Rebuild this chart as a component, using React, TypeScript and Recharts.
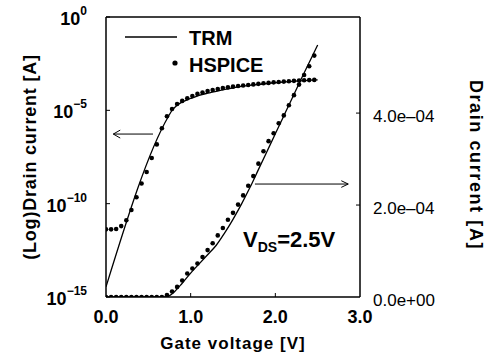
import { ComposedChart, Line, XAxis, YAxis, ReferenceLine, Legend } from 'recharts'

// gate voltage grid of the HSPICE points [V]
const dotVg = [
  0, 0.06, 0.12, 0.18, 0.24, 0.3, 0.36, 0.42, 0.48, 0.54, 0.6, 0.66, 0.72, 0.78,
  0.84, 0.9, 0.96, 1.02, 1.08, 1.14, 1.2, 1.26, 1.32, 1.38, 1.44, 1.5, 1.56, 1.62,
  1.68, 1.74, 1.8, 1.86, 1.92, 1.98, 2.04, 2.1, 2.16, 2.22, 2.28, 2.34, 2.4, 2.46,
]

// HSPICE, log axis [A]
const hspiceLog = [
  4.2e-12, 4.2e-12, 4.4e-12, 6.3e-12, 1.3e-11, 4.6e-11, 2.2e-10, 1.2e-9, 5.0e-9, 2.8e-8,
  1.5e-7, 1.1e-6, 4.8e-6, 1.17e-5, 2.2e-5, 3.2e-5, 4.4e-5, 5.9e-5, 7.6e-5, 9.1e-5,
  1.07e-4, 1.23e-4, 1.38e-4, 1.55e-4, 1.7e-4, 1.86e-4, 2.0e-4, 2.14e-4, 2.29e-4, 2.45e-4,
  2.63e-4, 2.82e-4, 2.95e-4, 3.16e-4, 3.31e-4, 3.47e-4, 3.63e-4, 3.8e-4, 3.98e-4, 4.07e-4,
  4.17e-4, 4.27e-4,
]

// HSPICE, linear axis [A]
const hspiceLin = [
  0, 0, 0, 0, 0, 0, 0, 0, 0, 0, 0, 0, 4.5e-6, 1.2e-5, 2.2e-5, 3.6e-5, 5.1e-5, 6.2e-5,
  7.3e-5, 8.7e-5, 1.02e-4, 1.17e-4, 1.34e-4, 1.5e-4, 1.68e-4, 1.83e-4, 2.01e-4, 2.21e-4,
  2.42e-4, 2.63e-4, 2.9e-4, 3.17e-4, 3.39e-4, 3.56e-4, 3.78e-4, 3.95e-4, 4.17e-4, 4.39e-4,
  4.62e-4, 4.83e-4, 5.02e-4, 5.25e-4,
]

// TRM model, log axis
const trmLogVg = [0, 0.74, 0.78, 0.84, 0.9, 1.0, 1.1, 1.2, 1.35, 1.5, 1.75, 2.0, 2.25, 2.5]
const trmLog = [
  3.5e-15, 5.0e-6, 1.0e-5, 1.9e-5, 2.8e-5, 4.3e-5, 6.3e-5, 8.3e-5, 1.17e-4, 1.6e-4,
  2.3e-4, 3.0e-4, 3.7e-4, 4.3e-4,
]

// TRM model, linear axis
const trmLinVg = [0, 0.7, 0.75, 0.8, 0.9, 1.0, 1.1, 1.2, 1.3, 1.4, 1.5, 1.6, 1.7, 1.8, 1.9, 2.0, 2.1, 2.2, 2.3, 2.4, 2.5]
const trmLin = [
  0, 0, 3e-6, 1.0e-5, 3.0e-5, 5.2e-5, 7.2e-5, 9.2e-5, 1.12e-4, 1.39e-4, 1.69e-4, 2.02e-4,
  2.38e-4, 2.77e-4, 3.16e-4, 3.55e-4, 3.94e-4, 4.33e-4, 4.72e-4, 5.1e-4, 5.48e-4,
]

const xTicks = [0, 1, 2, 3]
const logTicks = [1e-15, 1e-10, 1e-5, 1]
const linTicks = [0, 2e-4, 4e-4]

const FONT = '"Liberation Sans", Arial, Helvetica, sans-serif'

const hspiceLogData = dotVg.map((v, i) => ({ v, i: hspiceLog[i] }))
const hspiceLinData = dotVg.map((v, i) => ({ v, i: hspiceLin[i] }))
const trmLogData = trmLogVg.map((v, i) => ({ v, i: trmLog[i] }))
const trmLinData = trmLinVg.map((v, i) => ({ v, i: trmLin[i] }))

const XTick = ({ x, y, payload }: any) => (
  <g>
    {payload.value > 0 && payload.value < 3 && (
      <line x1={x} x2={x} y1={y} y2={y - 4} stroke="#000" />
    )}
    <text x={x} y={y + 26} textAnchor="middle" fontFamily={FONT} fontWeight="bold" fontSize={18} fill="#000">
      {payload.value.toFixed(1)}
    </text>
  </g>
)

const LogTick = ({ x, y, payload }: any) => {
  const exp = Math.round(Math.log10(payload.value))
  return (
    <g>
      <line x1={x} x2={x + 4} y1={y} y2={y} stroke="#000" />
      <text x={x - 19} y={y + 8} textAnchor="end" fontFamily={FONT} fontWeight="bold" fontSize={18} fill="#000">
        10
        <tspan dy={-10} fontSize={12}>
          {exp === 0 ? '0' : `\u2212${Math.abs(exp)}`}
        </tspan>
      </text>
    </g>
  )
}

const LinTick = ({ x, y, payload }: any) => {
  const v = payload.value
  const label = v === 0 ? '0.0e+00' : `${(v / 1e-4).toFixed(1)}e\u201304`
  return (
    <g>
      {v > 0 && <line x1={x} x2={x - 4} y1={y} y2={y} stroke="#000" />}
      <text x={x + 13} y={y + 9} fontFamily={FONT} fontSize={17} fill="#000">
        {label}
      </text>
    </g>
  )
}

const legendContent = () => (
  <svg width={170} height={60} style={{ display: 'block' }}>
    <line x1={5} x2={57} y1={17} y2={17} stroke="#000" strokeWidth={1.3} />
    <text x={69} y={25} fontFamily={FONT} fontWeight="bold" fontSize={20} fill="#000">TRM</text>
    <circle cx={55} cy={43} r={2.6} fill="#000" />
    <text x={69} y={52} fontFamily={FONT} fontWeight="bold" fontSize={20} fill="#000">HSPICE</text>
  </svg>
)

const dotStyle = { r: 2.3, fill: '#000', stroke: 'none' }

export default function App() {
  return (
    <div style={{ position: 'absolute', left: 0, top: 0, width: 488, height: 360, background: '#fff' }}>
      <ComposedChart width={488} height={360} margin={{ top: 17, right: 28, bottom: 23, left: 26 }}>
        <XAxis
          dataKey="v"
          type="number"
          domain={[0, 3]}
          ticks={xTicks}
          allowDataOverflow
          height={40}
          tick={XTick}
          tickLine={false}
          tickSize={0}
          tickMargin={0}
          axisLine={{ stroke: '#000', strokeWidth: 1.5 }}
        />
        <YAxis
          yAxisId="log"
          type="number"
          scale="log"
          domain={[1e-15, 1]}
          ticks={logTicks}
          allowDataOverflow
          width={80}
          tick={LogTick}
          tickLine={false}
          tickSize={0}
          tickMargin={0}
          axisLine={{ stroke: '#000', strokeWidth: 1.5 }}
        />
        <YAxis
          yAxisId="lin"
          orientation="right"
          type="number"
          domain={[0, 6.09e-4]}
          ticks={linTicks}
          allowDataOverflow
          width={100}
          tick={LinTick}
          tickLine={false}
          tickSize={0}
          tickMargin={0}
          axisLine={{ stroke: '#000', strokeWidth: 1.5 }}
        />
        <ReferenceLine yAxisId="log" y={1} stroke="#000" strokeWidth={1.5} />

        {/* arrows pointing to the axes */}
        <ReferenceLine yAxisId="lin" segment={[{ x: 0.555, y: 3.544e-4 }, { x: 0.086, y: 3.544e-4 }]} stroke="#000" strokeWidth={1} />
        <ReferenceLine yAxisId="lin" segment={[{ x: 0.086, y: 3.544e-4 }, { x: 0.168, y: 3.63e-4 }]} stroke="#000" strokeWidth={1} />
        <ReferenceLine yAxisId="lin" segment={[{ x: 0.086, y: 3.544e-4 }, { x: 0.168, y: 3.457e-4 }]} stroke="#000" strokeWidth={1} />
        <ReferenceLine yAxisId="lin" segment={[{ x: 1.759, y: 2.457e-4 }, { x: 2.861, y: 2.457e-4 }]} stroke="#000" strokeWidth={1} />
        <ReferenceLine yAxisId="lin" segment={[{ x: 2.861, y: 2.457e-4 }, { x: 2.779, y: 2.529e-4 }]} stroke="#000" strokeWidth={1} />
        <ReferenceLine yAxisId="lin" segment={[{ x: 2.861, y: 2.457e-4 }, { x: 2.779, y: 2.385e-4 }]} stroke="#000" strokeWidth={1} />

        <Line yAxisId="log" data={trmLogData} dataKey="i" type="monotone" stroke="#000" strokeWidth={1.3} dot={false} isAnimationActive={false} />
        <Line yAxisId="lin" data={trmLinData} dataKey="i" type="monotone" stroke="#000" strokeWidth={1.3} dot={false} isAnimationActive={false} />
        <Line yAxisId="log" data={hspiceLogData} dataKey="i" stroke="none" dot={dotStyle} activeDot={false} isAnimationActive={false} />
        <Line yAxisId="lin" data={hspiceLinData} dataKey="i" stroke="none" dot={dotStyle} activeDot={false} isAnimationActive={false} />

        <Legend
          layout="vertical"
          align="center"
          verticalAlign="middle"
          content={legendContent}
          wrapperStyle={{ position: 'absolute', left: 120, top: 20, width: 170, height: 60 }}
        />
      </ComposedChart>

      <svg width={488} height={360} style={{ position: 'absolute', left: 0, top: 0, pointerEvents: 'none' }}>
        <text
          transform="translate(36,157) rotate(-90)"
          textAnchor="middle"
          fontFamily={FONT}
          fontWeight="bold"
          fontSize={18}
          letterSpacing={0.8}
          fill="#000"
        >
          (Log)Drain current [A]
        </text>
        <text
          transform="translate(470,165) rotate(90)"
          textAnchor="middle"
          fontFamily={FONT}
          fontWeight="bold"
          fontSize={18}
          letterSpacing={1.6}
          fill="#000"
        >
          Drain current [A]
        </text>
        <text x={233} y={349} textAnchor="middle" fontFamily={FONT} fontWeight="bold" fontSize={17} letterSpacing={1} fill="#000">
          Gate voltage [V]
        </text>
        <text x={243} y={247} fontFamily={FONT} fontWeight="bold" fontSize={22} fill="#000">
          V
          <tspan dy={5} fontSize={14}>DS</tspan>
          <tspan dy={-5}>=2.5V</tspan>
        </text>
      </svg>
    </div>
  )
}
